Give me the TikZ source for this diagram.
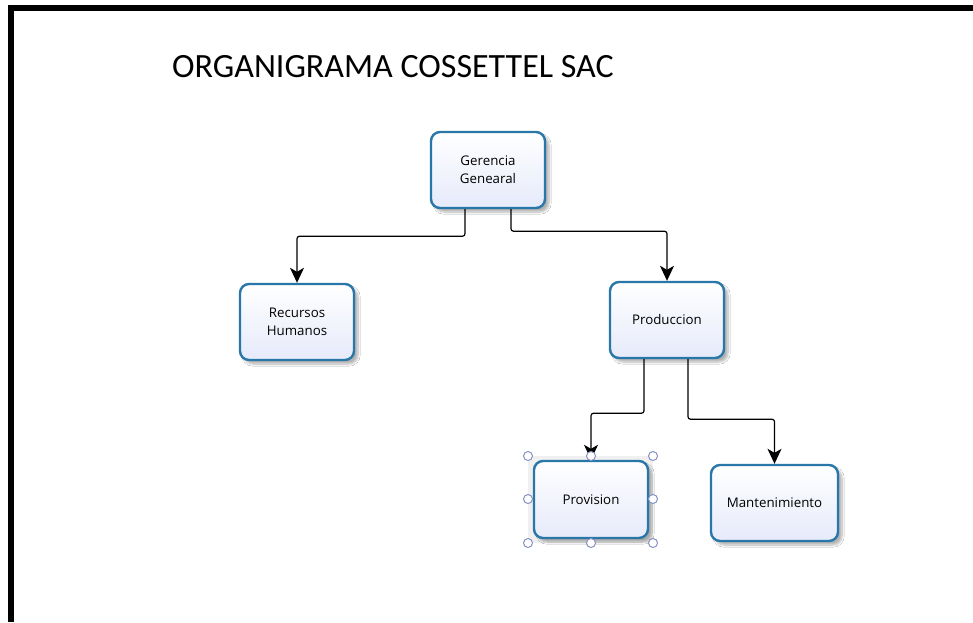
\documentclass[tikz,border=0pt]{standalone}
\usepackage{fontspec}
\setmainfont{Open Sans}
\newfontfamily\titlefont{Carlito}
\usetikzlibrary{arrows.meta,shadows.blur}
\definecolor{boxblue}{RGB}{41,118,168}
\definecolor{boxfill}{RGB}{230,234,250}
\definecolor{handle}{RGB}{135,145,195}
\tikzset{
  orgbox/.style={draw=boxblue, line width=2.4pt, rounded corners=9pt,
    top color=white, bottom color=boxfill, minimum height=76pt,
    minimum width=114pt, align=center, font=\fontsize{13.3}{18}\selectfont,
    blur shadow={shadow xshift=4pt, shadow yshift=-4pt, shadow opacity=30, shadow blur steps=8}},
  conn/.style={draw=black, line width=1.2pt, rounded corners=2.5pt,
    -{Stealth[length=15pt,width=14pt,inset=4pt]}},
  hnd/.style={draw=handle, fill=white, line width=1pt},
}
\begin{document}
\begin{tikzpicture}[x=1pt,y=-1pt]
\useasboundingbox (0,0) rectangle (973,622);
\fill[white] (0,0) rectangle (973,622);
% frame
\fill[black] (8,5) rectangle (973,11);
\fill[black] (8,5) rectangle (14,622);
% title
\node[anchor=base west, inner sep=0pt, font=\titlefont\fontsize{34}{36}\selectfont] (title) at (172,77) {ORGANIGRAMA COSSETTEL SAC};
% selection area
\fill[gray!12] (528,456) rectangle (653,543);
% boxes
\node[orgbox] (G) at (488,170) {Gerencia\\Genearal};
\node[orgbox] (RH) at (297,322) {Recursos\\Humanos};
\node[orgbox] (P) at (667,320) {Produccion};
\node[orgbox, minimum height=77pt] (PV) at (591,499.5) {Provision};
\node[orgbox, minimum width=127pt] (M) at (774.5,503) {Mantenimiento};
% connectors
\draw[conn] ([xshift=-23pt]G.south) -- ++(0,27) -| (RH.north);
\draw[conn] ([xshift=23pt]G.south) -- ++(0,22) -| (P.north);
\draw[conn] ([xshift=-23pt]P.south) -- ++(0,54) -| (PV.north);
\draw[conn] ([xshift=21pt]P.south) -- ++(0,60) -| (M.north);
% selection handles
\foreach \hx/\hy in {528/456,591/456,653/456,528/499,653/499,528/543,591/543,653/543}
  \draw[hnd] (\hx,\hy) circle (4.5pt);
\end{tikzpicture}
\end{document}
